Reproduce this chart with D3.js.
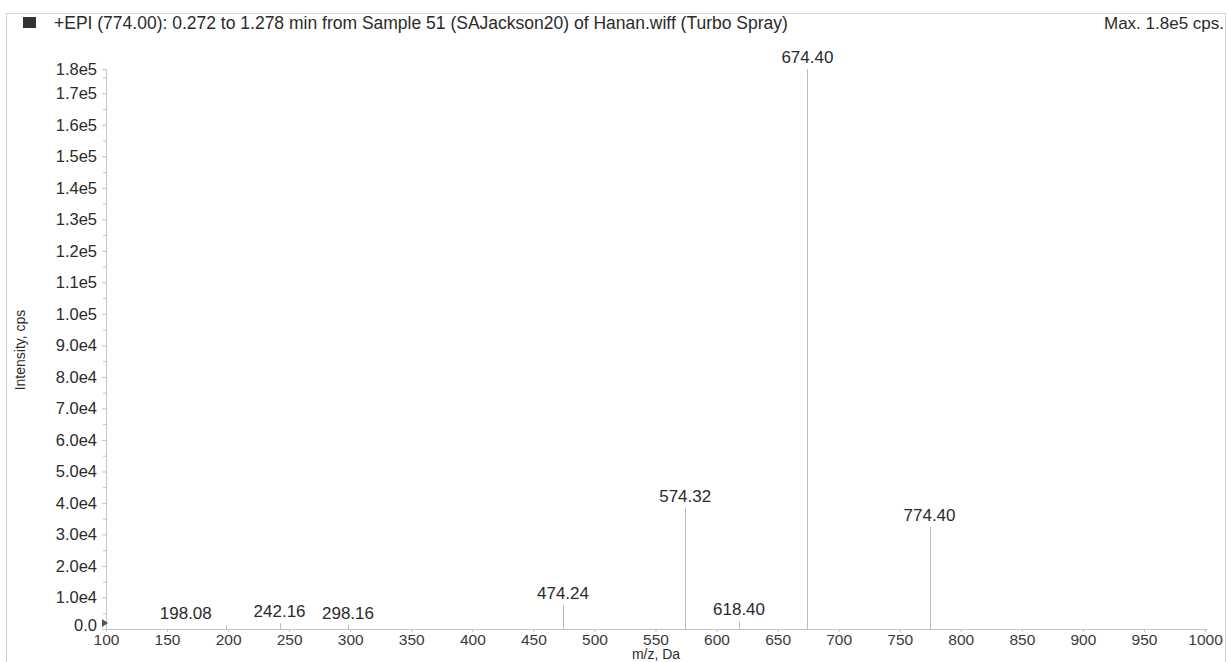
<!DOCTYPE html>
<html>
<head>
<meta charset="utf-8">
<script src="https://cdn.jsdelivr.net/npm/d3@7"></script>
<style>
  body { margin: 0; background: #fff; }
  svg { display: block; font-family: Arial, "Liberation Sans", sans-serif; }
</style>
</head>
<body>
<svg id="chart" width="1228" height="662"></svg>
<script>
// spectrum peaks (m/z, intensity in cps)
const peakMz = [198.08, 242.16, 298.16, 474.24, 574.32, 618.40, 674.40, 774.40];
const peakIntensity = [1200, 1800, 1400, 7500, 38500, 2400, 177700, 32500];
const peakLabels = ['198.08', '242.16', '298.16', '474.24', '574.32', '618.40', '674.40', '774.40'];

const xTicks = [100, 150, 200, 250, 300, 350, 400, 450, 500, 550, 600, 650, 700, 750, 800, 850, 900, 950, 1000];
const yTicks = [0, 1e4, 2e4, 3e4, 4e4, 5e4, 6e4, 7e4, 8e4, 9e4, 1e5, 1.1e5, 1.2e5, 1.3e5, 1.4e5, 1.5e5, 1.6e5, 1.7e5];
const yMax = 177700; // top of axis, shown as 1.8e5

const titleText = '+EPI (774.00): 0.272 to 1.278 min from Sample 51 (SAJackson20) of Hanan.wiff (Turbo Spray)';
const maxText = 'Max. 1.8e5 cps.';

const svg = d3.select('#chart');
const axisCol = '#c4c4c4';
const textCol = '#2b2b2b';

const x = d3.scaleLinear().domain([100, 1000]).range([106, 1205]);
const y = d3.scaleLinear().domain([0, yMax]).range([629, 69]);

// frame around the pane
svg.append('path')
  .attr('d', 'M6.5,662 V13.5 H1225.5 V662')
  .attr('fill', 'none').attr('stroke', '#d4d4d4');

// header
svg.append('rect').attr('x', 23).attr('y', 17).attr('width', 13).attr('height', 11).attr('fill', '#333');
svg.append('text').attr('x', 54).attr('y', 29).attr('font-size', 17.5).attr('fill', textCol).text(titleText);
svg.append('text').attr('x', 1224).attr('y', 29).attr('font-size', 17).attr('text-anchor', 'end')
  .attr('fill', textCol).text(maxText);

// y axis
const fmtY = d => d === 0 ? '0.0' : d3.format('.1e')(d).replace('e+', 'e');
const yAxis = d3.axisLeft(y).tickValues(yTicks.concat([yMax])).tickSize(4).tickPadding(5)
  .tickFormat(d => d === yMax ? '1.8e5' : fmtY(d));
const gy = svg.append('g').attr('transform', 'translate(106,0)').call(yAxis);
gy.select('.domain').attr('stroke', axisCol);
gy.selectAll('.tick line').attr('stroke', axisCol);
gy.selectAll('.tick text').attr('font-size', 16.5).attr('fill', textCol).attr('font-family', 'Arial, "Liberation Sans", sans-serif');
gy.selectAll('.tick').filter(d => d === 0).select('text').attr('dy', '0.1em');
// minor ticks between the labelled ones
svg.append('g').selectAll('line')
  .data(yTicks.map(d => d + 5000))
  .join('line')
  .attr('x1', 103).attr('x2', 106)
  .attr('y1', d => y(d) + 0.5).attr('y2', d => y(d) + 0.5)
  .attr('stroke', axisCol);

// x axis
const xAxis = d3.axisBottom(x).tickValues(xTicks).tickSize(3).tickPadding(2).tickFormat(d3.format('d'));
const gx = svg.append('g').attr('transform', 'translate(0,629)').call(xAxis);
gx.select('.domain').attr('stroke', axisCol).attr('d', 'M106,0.5H1207');
gx.selectAll('.tick line').attr('stroke', axisCol);
gx.selectAll('.tick text').attr('font-size', 15.5).attr('fill', '#3a3a3a').attr('font-family', 'Arial, "Liberation Sans", sans-serif');

// small marker at the origin
svg.append('path').attr('d', 'M102,619 L108,623 L102,627 Z').attr('fill', '#555');

// axis titles
svg.append('text').attr('transform', 'translate(25,350) rotate(-90)').attr('text-anchor', 'middle')
  .attr('font-size', 14).attr('fill', textCol).text('Intensity, cps');
svg.append('text').attr('x', 656).attr('y', 659).attr('text-anchor', 'middle')
  .attr('font-size', 14).attr('fill', textCol).text('m/z, Da');

// peaks
const peaks = peakMz.map((m, i) => ({ mz: m, v: peakIntensity[i], label: peakLabels[i] }));
svg.append('g').selectAll('line')
  .data(peaks)
  .join('line')
  .attr('x1', d => Math.round(x(d.mz)) + 0.5).attr('x2', d => Math.round(x(d.mz)) + 0.5)
  .attr('y1', d => y(d.v)).attr('y2', y(0))
  .attr('stroke', '#bcbcbc').attr('stroke-width', 1);

// labels; the software pushed the 198.08 label left to clear its neighbour
const nudge = { '198.08': -40 };
svg.append('g').selectAll('text')
  .data(peaks)
  .join('text')
  .attr('x', d => x(d.mz) + (nudge[d.label] || 0))
  .attr('y', d => y(d.v) - 6)
  .attr('text-anchor', 'middle')
  .attr('font-size', 17).attr('fill', textCol)
  .text(d => d.label);
</script>
</body>
</html>
